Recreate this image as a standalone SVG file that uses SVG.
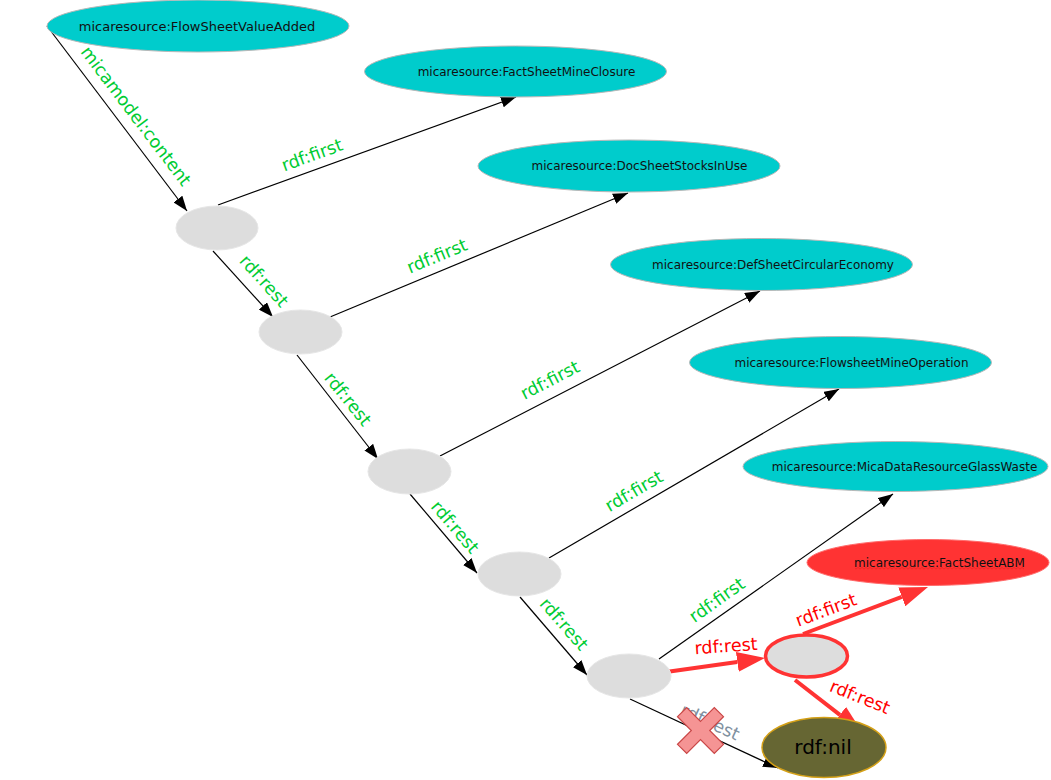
<svg xmlns="http://www.w3.org/2000/svg" width="1051" height="780" viewBox="0 0 1051 780">
<style>
.res{fill:#00cccc;stroke:#b8b8b8;stroke-width:1}
.bn{fill:#dddddd;stroke:#e6e6e6;stroke-width:1}
.nt{font-family:"DejaVu Sans",sans-serif;font-size:12px;fill:#111;text-anchor:middle}
.e{stroke:#000;stroke-width:1.2;fill:none}
.er{stroke:#ff3333;stroke-width:4;fill:none}
.lg{font-family:"DejaVu Sans",sans-serif;font-size:17.5px;fill:#00cc33;text-anchor:middle}
.lr{font-family:"DejaVu Sans",sans-serif;font-size:17.5px;fill:#ff0000;text-anchor:middle}
.lx{font-family:"DejaVu Sans",sans-serif;font-size:17.5px;fill:#8090a0;text-anchor:middle}
</style>
<defs>
<marker id="ab" markerUnits="userSpaceOnUse" markerWidth="15" markerHeight="11" refX="15" refY="5.5" orient="auto"><path d="M0,0 L15,5.5 L0,11 z" fill="#000"/></marker>
<marker id="ar" markerUnits="userSpaceOnUse" markerWidth="28" markerHeight="20" refX="0" refY="10" orient="auto"><path d="M0,0 L28,10 L0,20 z" fill="#ff3333"/></marker>
<pattern id="wavy" width="4" height="3" patternUnits="userSpaceOnUse"><path d="M0,2.5 L1,1 L2,0.5 L3,1 L4,2.5" stroke="#ee2222" stroke-width="0.8" fill="none"/></pattern>
</defs>

<g id="connectors">
  <line class="e" x1="47" y1="26" x2="187" y2="211" marker-end="url(#ab)"/>
  <line class="e" x1="218" y1="205" x2="516" y2="97" marker-end="url(#ab)"/>
  <line class="e" x1="213" y1="251" x2="273" y2="317" marker-end="url(#ab)"/>
  <line class="e" x1="330" y1="317" x2="628" y2="193" marker-end="url(#ab)"/>
  <line class="e" x1="297" y1="355" x2="378" y2="459" marker-end="url(#ab)"/>
  <line class="e" x1="440" y1="456" x2="760" y2="291" marker-end="url(#ab)"/>
  <line class="e" x1="410" y1="494" x2="477" y2="573" marker-end="url(#ab)"/>
  <line class="e" x1="549" y1="558" x2="839" y2="389" marker-end="url(#ab)"/>
  <line class="e" x1="520" y1="597" x2="587" y2="675" marker-end="url(#ab)"/>
  <line class="e" x1="659" y1="659" x2="893" y2="494" marker-end="url(#ab)"/>
  <line class="e" x1="630" y1="699" x2="778" y2="768" marker-end="url(#ab)"/>
  <line class="er" x1="659" y1="673" x2="737.3" y2="661.9" marker-end="url(#ar)"/>
  <line class="er" x1="803" y1="634" x2="901.8" y2="596.9" marker-end="url(#ar)"/>
  <line class="er" x1="795" y1="680" x2="839.9" y2="714.8" marker-end="url(#ar)"/>

  <text class="lg" transform="translate(136,116) rotate(52.8)" y="6">micamodel:content</text>
  <text class="lg" transform="translate(312,155) rotate(-20)" y="6">rdf:first</text>
  <text class="lg" transform="translate(264,281) rotate(48)" y="6">rdf:rest</text>
  <text class="lg" transform="translate(437,256) rotate(-22.6)" y="6">rdf:first</text>
  <text class="lg" transform="translate(348,399) rotate(51)" y="6">rdf:rest</text>
  <text class="lg" transform="translate(550,380) rotate(-27.3)" y="6">rdf:first</text>
  <text class="lg" transform="translate(455,527) rotate(49.5)" y="6">rdf:rest</text>
  <text class="lg" transform="translate(634,491) rotate(-30.2)" y="6">rdf:first</text>
  <text class="lg" transform="translate(564,624) rotate(49)" y="6">rdf:rest</text>
  <text class="lg" transform="translate(717,600) rotate(-35.5)" y="6">rdf:first</text>
  <text class="lr" transform="translate(726,646) rotate(-4)" y="6">rdf:rest</text>
  <text class="lr" transform="translate(826,610) rotate(-20.6)" y="6">rdf:first</text>
  <text class="lr" transform="translate(860,697) rotate(22)" y="6">rdf:rest</text>
  <text class="lx" transform="translate(710,722) rotate(25)" y="6">rdf:rest</text>
  <path d="M700.5,721.3 L714.3,707.5 L723.5,716.7 L709.7,730.5 L723.5,744.3 L714.3,753.5 L700.5,739.7 L686.7,753.5 L677.5,744.3 L691.3,730.5 L677.5,716.7 L686.7,707.5 Z" fill="#f59494" stroke="#c94545" stroke-width="1.2"/>
</g>

<g id="n-FlowSheetValueAdded">
  <ellipse class="res" cx="198" cy="26" rx="151" ry="26"/>
  <text class="nt" x="197" y="30.5" style="font-size:13px">micaresource:FlowSheetValueAdded</text>
</g>
<g id="n-FactSheetMineClosure">
  <ellipse class="res" cx="515.5" cy="71.5" rx="151" ry="25.5"/>
  <text class="nt" x="526.5" y="75.5">micaresource:FactSheetMineClosure</text>
</g>
<g id="n-DocSheetStocksInUse">
  <ellipse class="res" cx="629" cy="166" rx="151" ry="26"/>
  <text class="nt" x="639.5" y="170">micaresource:DocSheetStocksInUse</text>
</g>
<g id="n-DefSheetCircularEconomy">
  <ellipse class="res" cx="761.5" cy="264.5" rx="151" ry="26"/>
  <text class="nt" x="773" y="268.5">micaresource:DefSheetCircularEconomy</text>
</g>
<g id="n-FlowsheetMineOperation">
  <ellipse class="res" cx="840.5" cy="362.5" rx="151" ry="26"/>
  <text class="nt" x="851.5" y="366.5">micaresource:FlowsheetMineOperation</text>
</g>
<g id="n-MicaDataResourceGlassWaste">
  <ellipse class="res" cx="895.5" cy="466.5" rx="152.5" ry="25"/>
  <text class="nt" x="904.5" y="470.5">micaresource:MicaDataResourceGlassWaste</text>
</g>
<g id="n-FactSheetABM">
  <ellipse cx="928" cy="562.5" rx="121" ry="23" fill="#ff3333" stroke="#ff6b6b" stroke-width="1"/>
  <text class="nt" x="939.5" y="566.5">micaresource:FactSheetABM</text>
  <rect x="855" y="567" width="169" height="3" fill="url(#wavy)"/>
</g>
<g id="b1"><ellipse class="bn" cx="217" cy="228" rx="41" ry="22"/></g>
<g id="b2"><ellipse class="bn" cx="300.5" cy="332" rx="41.5" ry="22"/></g>
<g id="b3"><ellipse class="bn" cx="409.5" cy="471.5" rx="41.5" ry="22.5"/></g>
<g id="b4"><ellipse class="bn" cx="519.5" cy="574" rx="41.5" ry="22"/></g>
<g id="b5"><ellipse class="bn" cx="629" cy="676" rx="42" ry="22"/></g>
<g id="b6"><ellipse cx="806.5" cy="656" rx="41" ry="21" fill="#dddddd" stroke="#ff3333" stroke-width="3.5"/></g>
<g id="n-nil">
  <ellipse cx="824" cy="747.5" rx="62" ry="30" fill="#666633" stroke="#d4a017" stroke-width="1.5"/>
  <text x="823" y="754" style="font-family:'DejaVu Sans',sans-serif;font-size:20px;fill:#000;text-anchor:middle">rdf:nil</text>
</g>
</svg>
